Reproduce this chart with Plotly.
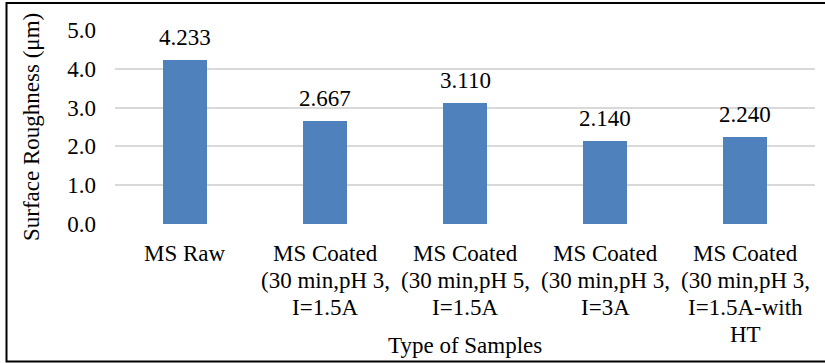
import plotly.graph_objects as go

# Surface roughness of mild-steel samples
categories = [
    "MS Raw",
    "MS Coated (30 min,pH 3, I=1.5A",
    "MS Coated (30 min,pH 5, I=1.5A",
    "MS Coated (30 min,pH 3, I=3A",
    "MS Coated (30 min,pH 3, I=1.5A-with HT",
]
label_lines = [
    ["MS Raw"],
    ["MS Coated", "(30 min,pH 3,", "I=1.5A"],
    ["MS Coated", "(30 min,pH 5,", "I=1.5A"],
    ["MS Coated", "(30 min,pH 3,", "I=3A"],
    ["MS Coated", "(30 min,pH 3,", "I=1.5A-with", "HT"],
]
roughness = [4.233, 2.667, 3.110, 2.140, 2.240]
y_ticks = [0, 1, 2, 3, 4, 5]

FONT = "Liberation Serif"
FS = 23
BAR_COLOR = "#4F81BD"

W, H = 825, 363
L, R, T, B = 115, 10, 30, 139
plot_w = W - L - R
plot_h = H - T - B


def px_to_paper_x(px):
    return (px - L) / plot_w


def px_to_paper_y(py):
    return (H - B - py) / plot_h


fig = go.Figure()
fig.add_trace(go.Bar(
    x=categories,
    y=roughness,
    marker=dict(color=BAR_COLOR, line=dict(width=0)),
    width=0.314,
    hoverinfo="x+y",
))

annotations = []
# value labels above bars
for c, v in zip(categories, roughness):
    annotations.append(dict(
        x=c, y=v, xref="x", yref="y", text=f"{v:.3f}",
        showarrow=False, yanchor="bottom", yshift=8,
        font=dict(family=FONT, size=FS, color="#000000"),
    ))

# multi-line category labels under the axis
LINE_GAP = 27.3
for c, lines in zip(categories, label_lines):
    for i, line in enumerate(lines):
        annotations.append(dict(
            x=c, y=0, xref="x", yref="paper", text=line,
            showarrow=False, yanchor="top", yshift=-14.5 - i * LINE_GAP,
            font=dict(family=FONT, size=FS, color="#000000"),
        ))

# axis titles
annotations.append(dict(
    x=0.5, y=0, xref="paper", yref="paper", text="Type of Samples",
    showarrow=False, yanchor="top", yshift=-106.5,
    font=dict(family=FONT, size=FS, color="#000000"),
))
annotations.append(dict(
    x=px_to_paper_x(31), y=0.5, xref="paper", yref="paper",
    text="Surface Roughness (μm)", textangle=-90,
    showarrow=False, xanchor="center", yanchor="middle",
    font=dict(family=FONT, size=FS, color="#000000"),
))

fig.update_layout(
    width=W, height=H,
    margin=dict(l=L, r=R, t=T, b=B, pad=0),
    paper_bgcolor="white",
    plot_bgcolor="white",
    showlegend=False,
    bargap=0,
    font=dict(family=FONT, size=FS, color="#000000"),
    annotations=annotations,
    shapes=[dict(
        type="rect", xref="paper", yref="paper",
        x0=px_to_paper_x(6.5), x1=px_to_paper_x(835),
        y0=px_to_paper_y(361.5), y1=px_to_paper_y(3),
        line=dict(color="#000000", width=2),
        fillcolor="rgba(0,0,0,0)", layer="above",
    )],
)

fig.update_xaxes(
    type="category",
    showticklabels=False,
    showgrid=False,
    zeroline=False,
    showline=False,
    ticks="",
)
fig.update_yaxes(
    range=[0, 5],
    tickvals=y_ticks,
    tickformat=".1f",
    showgrid=True,
    gridcolor="#D9D9D9",
    gridwidth=1.5,
    zeroline=False,
    showline=False,
    ticks="",
    ticklabelstandoff=18,
    tickfont=dict(family=FONT, size=FS, color="#000000"),
)

fig.write_html("out.html")
